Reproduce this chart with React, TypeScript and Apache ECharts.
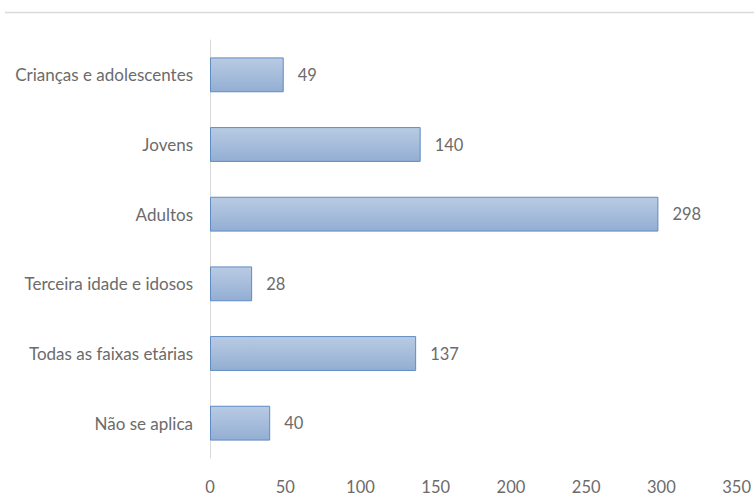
import React, { useEffect, useRef } from "react";
import * as echarts from "echarts";

const categories = [
  "Crianças e adolescentes",
  "Jovens",
  "Adultos",
  "Terceira idade e idosos",
  "Todas as faixas etárias",
  "Não se aplica",
];
const values = [49, 140, 298, 28, 137, 40];
const xTicks = [0, 50, 100, 150, 200, 250, 300, 350];

export default function App() {
  const ref = useRef<HTMLDivElement>(null);
  useEffect(() => {
    if (!ref.current) return;
    const chart = echarts.init(ref.current, undefined, { renderer: "svg" });
    const font = "Lato, 'Open Sans', sans-serif";
    chart.setOption({
      animation: false,
      backgroundColor: "#ffffff",
      grid: { left: 210, right: 17, top: 40, bottom: 42 },
      graphic: [
        {
          type: "line",
          shape: { x1: 5, y1: 12.5, x2: 754, y2: 12.5 },
          style: { stroke: "#d9d9d9", lineWidth: 1.5 },
        },
      ],
      xAxis: {
        type: "value",
        min: xTicks[0],
        max: xTicks[xTicks.length - 1],
        interval: 50,
        axisLine: { show: false },
        axisTick: { show: false },
        splitLine: { show: false },
        axisLabel: {
          color: "#6b6b6b",
          fontSize: 16.5,
          fontFamily: font,
          margin: 20,
        },
      },
      yAxis: {
        type: "category",
        data: categories,
        inverse: true,
        axisLine: { show: true, lineStyle: { color: "#d9d9d9", width: 1 } },
        axisTick: { show: false },
        axisLabel: {
          color: "#6b6b6b",
          fontSize: 17,
          fontFamily: font,
          margin: 17,
        },
      },
      series: [
        {
          type: "bar",
          data: values,
          barWidth: "50%",
          itemStyle: {
            color: new echarts.graphic.LinearGradient(0, 0, 0, 1, [
              { offset: 0, color: "#b9cbe3" },
              { offset: 1, color: "#93aed3" },
            ]),
            borderColor: "#5f8bc3",
            borderWidth: 1,
          },
          label: {
            show: true,
            position: "right",
            distance: 14,
            color: "#6b6b6b",
            fontSize: 16.5,
            fontFamily: font,
          },
        },
      ],
    });
    return () => chart.dispose();
  }, []);
  return (
    <div
      ref={ref}
      style={{ position: "absolute", left: 0, top: 0, width: 754, height: 500 }}
    />
  );
}
